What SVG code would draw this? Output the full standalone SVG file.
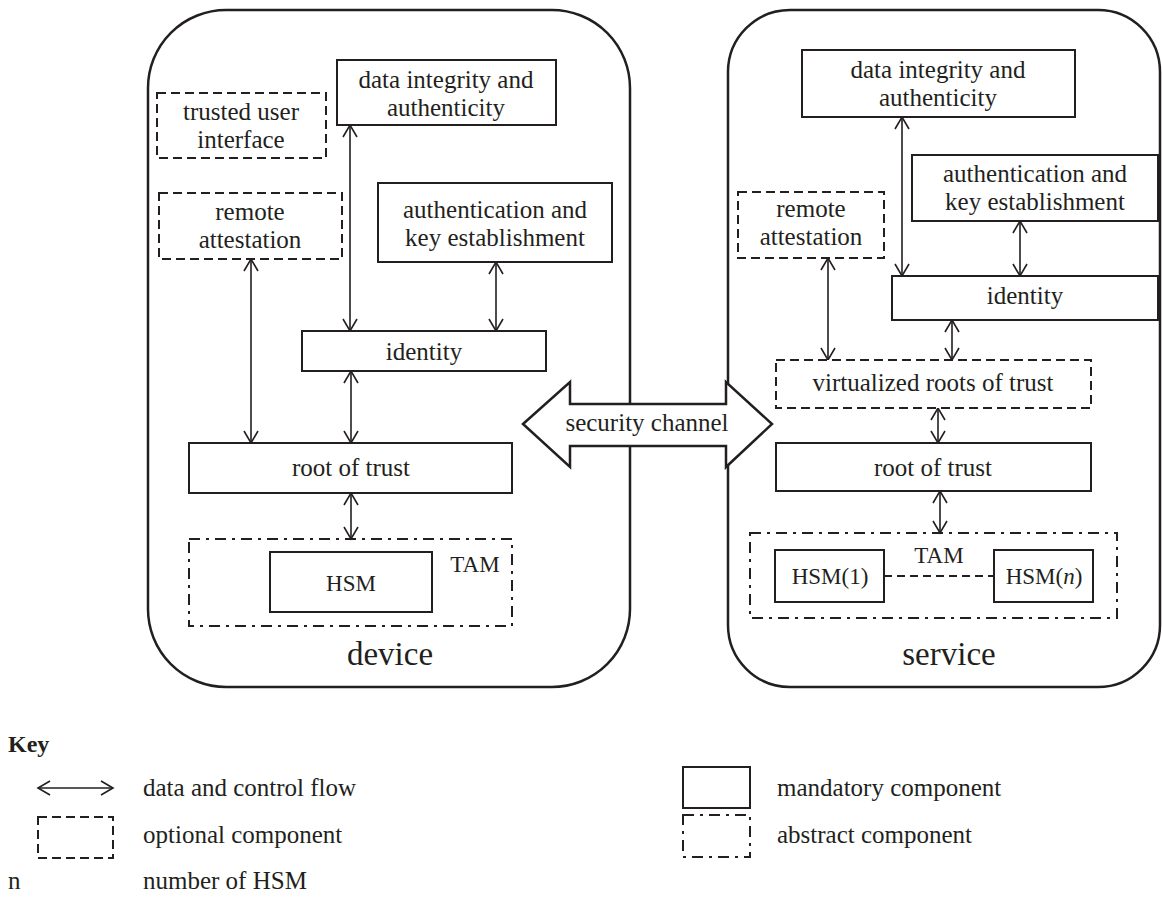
<svg xmlns="http://www.w3.org/2000/svg" width="1162" height="901" viewBox="0 0 1162 901">
<style>
text{font-family:"Liberation Serif","Times New Roman",serif;fill:#231f20;font-size:25px}
.c{text-anchor:middle}
.big{font-size:33px}
.cap{font-size:23px}
.cont{fill:none;stroke:#231f20;stroke-width:2.5}
.box{fill:#fff;stroke:#231f20;stroke-width:2}
.opt{fill:#fff;stroke:#231f20;stroke-width:2;stroke-dasharray:9 5}
.abs{fill:none;stroke:#231f20;stroke-width:2;stroke-dasharray:11 6 3 6}
.arr{stroke:#231f20;stroke-width:1.6;fill:none;marker-start:url(#ah);marker-end:url(#ah)}
</style>
<defs>
<marker id="ah" viewBox="0 0 12 14" refX="12" refY="7" markerWidth="12" markerHeight="14" markerUnits="userSpaceOnUse" orient="auto-start-reverse" overflow="visible">
<path d="M0,0 L12,7 L0,14" fill="none" stroke="#231f20" stroke-width="1.6"/>
</marker>
</defs>
<rect width="1162" height="901" fill="#fff"/>
<g id="device">
<rect class="cont" x="148" y="10" width="482" height="677" rx="78"/>
<text class="c big" x="390" y="665">device</text>
</g>
<g id="service">
<rect class="cont" x="728" y="10" width="432" height="677" rx="62"/>
<text class="c big" x="949" y="665">service</text>
</g>
<g id="connectors">
<line class="arr" x1="251" y1="259" x2="251" y2="443"/>
<line class="arr" x1="350" y1="125" x2="350" y2="331"/>
<line class="arr" x1="496" y1="262" x2="496" y2="331"/>
<line class="arr" x1="351" y1="371" x2="351" y2="443"/>
<line class="arr" x1="351" y1="493" x2="351" y2="539"/>
<line class="arr" x1="902" y1="117" x2="902" y2="276"/>
<line class="arr" x1="1020" y1="221" x2="1020" y2="276"/>
<line class="arr" x1="828" y1="258" x2="828" y2="360"/>
<line class="arr" x1="952" y1="320" x2="952" y2="360"/>
<line class="arr" x1="938" y1="408" x2="938" y2="443"/>
<line class="arr" x1="940" y1="491" x2="940" y2="533"/>
<line x1="884" y1="576" x2="994" y2="576" stroke="#231f20" stroke-width="2" stroke-dasharray="8 5"/>
</g>
<g id="security-channel">
<polygon points="523,424 570,382 570,404 726,404 726,382 772,424 726,467 726,446 570,446 570,467" fill="#fff" stroke="#231f20" stroke-width="2.5" stroke-linejoin="miter"/>
<text class="c" x="647" y="431">security channel</text>
</g>
<g id="d-data">
<rect class="box" x="337" y="60" width="219" height="65"/>
<text class="c" x="446" y="88">data integrity and</text>
<text class="c" x="446" y="116">authenticity</text>
</g>
<g id="d-tui">
<rect class="opt" x="157" y="93" width="169" height="65"/>
<text class="c" x="241" y="120">trusted user</text>
<text class="c" x="241" y="148">interface</text>
</g>
<g id="d-remote">
<rect class="opt" x="159" y="193" width="183" height="66"/>
<text class="c" x="250" y="220">remote</text>
<text class="c" x="250" y="248">attestation</text>
</g>
<g id="d-auth">
<rect class="box" x="378" y="183" width="234" height="79"/>
<text class="c" x="495" y="218">authentication and</text>
<text class="c" x="495" y="246">key establishment</text>
</g>
<g id="d-identity">
<rect class="box" x="302" y="331" width="244" height="40"/>
<text class="c" x="424" y="360">identity</text>
</g>
<g id="d-root">
<rect class="box" x="189" y="443" width="323" height="50"/>
<text class="c" x="351" y="476">root of trust</text>
</g>
<g id="d-tam">
<rect class="abs" x="189" y="539" width="323" height="87"/>
<text class="c cap" x="475" y="572">TAM</text>
</g>
<g id="d-hsm">
<rect class="box" x="270" y="552" width="162" height="60"/>
<text class="c cap" x="351" y="591">HSM</text>
</g>
<g id="s-data">
<rect class="box" x="802" y="50" width="273" height="67"/>
<text class="c" x="938" y="78">data integrity and</text>
<text class="c" x="938" y="106">authenticity</text>
</g>
<g id="s-auth">
<rect class="box" x="912" y="155" width="246" height="66"/>
<text class="c" x="1035" y="182">authentication and</text>
<text class="c" x="1035" y="210">key establishment</text>
</g>
<g id="s-remote">
<rect class="opt" x="738" y="192" width="146" height="66"/>
<text class="c" x="811" y="217">remote</text>
<text class="c" x="811" y="245">attestation</text>
</g>
<g id="s-identity">
<rect class="box" x="892" y="276" width="266" height="44"/>
<text class="c" x="1025" y="304">identity</text>
</g>
<g id="s-vrot">
<rect class="opt" x="776" y="360" width="315" height="48"/>
<text class="c" x="933" y="391">virtualized roots of trust</text>
</g>
<g id="s-root">
<rect class="box" x="776" y="443" width="315" height="48"/>
<text class="c" x="933" y="476">root of trust</text>
</g>
<g id="s-tam">
<rect class="abs" x="750" y="533" width="367" height="85"/>
<text class="c cap" x="939" y="563">TAM</text>
</g>
<g id="s-hsm1">
<rect class="box" x="775" y="550" width="109" height="52"/>
<text class="c cap" x="830" y="584">HSM(1)</text>
</g>
<g id="s-hsmn">
<rect class="box" x="994" y="550" width="99" height="52"/>
<text class="c cap" x="1044" y="584">HSM(<tspan font-style="italic">n</tspan>)</text>
</g>
<g id="key">
<text x="8" y="752" font-weight="bold" style="font-size:24px">Key</text>
<line class="arr" x1="38" y1="788" x2="113" y2="788"/>
<text x="143" y="796">data and control flow</text>
<rect class="opt" x="38" y="817" width="75" height="41"/>
<text x="143" y="843">optional component</text>
<text x="8" y="889">n</text>
<text x="143" y="889">number of HSM</text>
<rect class="box" x="683" y="767" width="67" height="41"/>
<text x="777" y="796">mandatory component</text>
<rect class="abs" x="683" y="815" width="67" height="42"/>
<text x="777" y="843">abstract component</text>
</g>
</svg>
